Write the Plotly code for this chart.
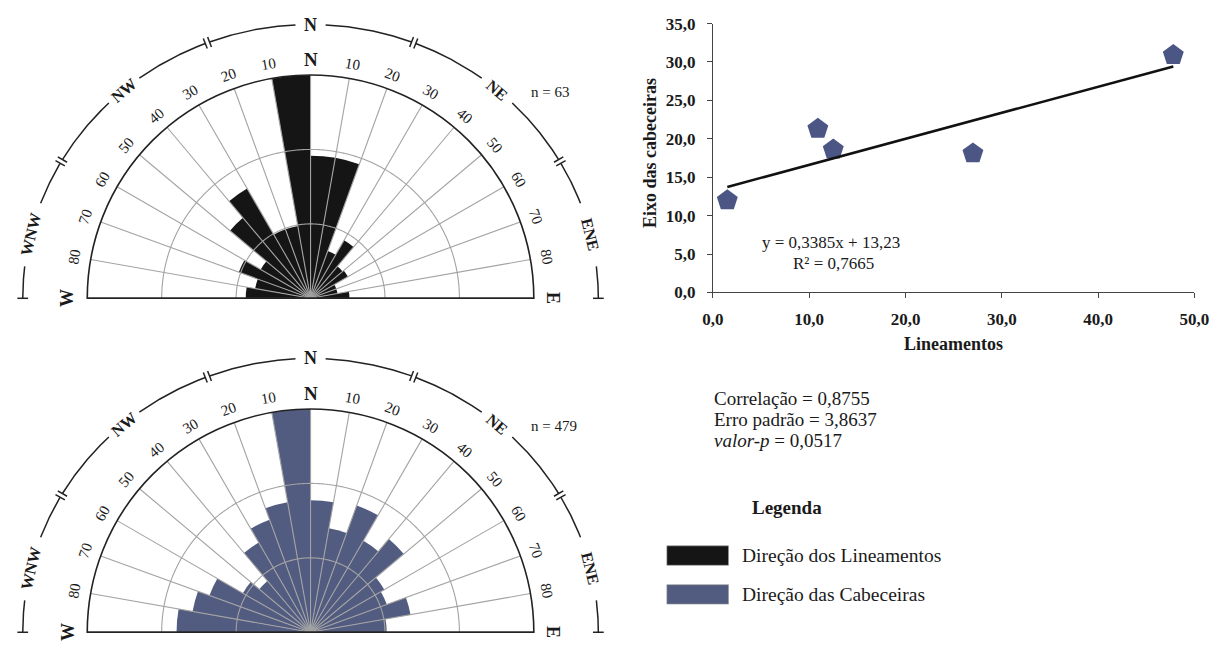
import numpy as np
import plotly.graph_objects as go

FIG_W, FIG_H = 1232, 651
SERIF = "Liberation Serif"

# ---- rose diagrams: 10-degree sectors, azimuth from north (negative = west) ----
sector_az = [-85, -75, -65, -55, -45, -35, -25, -15, -5,
             5, 15, 25, 35, 45, 55, 65, 75, 85]
lineamentos_pct = [4.5, 3.9, 5.3, 4.0, 7.3, 8.8, 5.1, 5.1, 15.5,
                   9.9, 9.9, 3.5, 4.65, 2.9, 3.0, 1.9, 1.9, 2.7]
cabeceiras_pct = [6.6, 5.9, 5.3, 3.85, 3.3, 5.1, 5.9, 6.5, 11.0,
                  6.5, 5.2, 6.65, 5.2, 6.0, 4.2, 4.0, 5.0, 3.75]
lineamentos_max = 15.5
cabeceiras_max = 11.0
lineamentos_n = 63
cabeceiras_n = 479

# ---- scatter: lineamentos vs eixo das cabeceiras ----
lineamentos = [1.5, 10.9, 12.5, 27.0, 47.8]
cabeceiras = [12.0, 21.3, 18.6, 18.1, 30.9]
slope, intercept, r2 = 0.3385, 13.23, 0.7665
correlacao, erro_padrao, valor_p = 0.8755, 3.8637, 0.0517
x_ticks = [0, 10, 20, 30, 40, 50]
y_ticks = [0, 5, 10, 15, 20, 25, 30, 35]

BLACK_BAR = "#151515"
BLUE_BAR = "#525b80"
MARKER_BLUE = "#4b5684"
GRID = "#a3a3a3"


def comma(v, nd):
    return f"{v:.{nd}f}".replace(".", ",")


# layout geometry (pixels)
R = 230
CX = 306
ARC_A, ARC_B = 294, 282

fig = go.Figure()
annotations = []
shapes = []


def px_ann(x, y, text, size, bold=False, angle=0, xanchor="center", color="#1a1a1a"):
    annotations.append(dict(
        x=x, y=y, xref="x2", yref="y2", text=text, showarrow=False,
        textangle=angle, xanchor=xanchor, yanchor="middle",
        font=dict(family=SERIF, size=size, color=color,
                  weight="bold" if bold else "normal"),
    ))


roses = [
    dict(name="polar", cy=298, vals=lineamentos_pct, rmax=lineamentos_max,
         color=BLACK_BAR, n=lineamentos_n, nlabel=(551, 86), label="Direção dos Lineamentos"),
    dict(name="polar2", cy=642, vals=cabeceiras_pct, rmax=cabeceiras_max,
         color=BLUE_BAR, n=cabeceiras_n, nlabel=(555, 430), label="Direção das Cabeceiras"),
]

polar_layouts = {}
for rose in roses:
    cy = rose["cy"]
    rmax = rose["rmax"]
    sub = rose["name"]
    fig.add_trace(go.Barpolar(
        r=rose["vals"], theta=sector_az, width=[10] * len(sector_az),
        marker=dict(color=rose["color"], line=dict(width=0)),
        subplot=sub, showlegend=False, hoverinfo="skip",
    ))
    # grid drawn over the bars: radial spokes every 10 degrees and two rings
    spoke_r, spoke_t = [], []
    for a in range(-80, 81, 10):
        spoke_r += [0, rmax, None]
        spoke_t += [a, a, None]
    fig.add_trace(go.Scatterpolar(
        r=spoke_r, theta=spoke_t, mode="lines",
        line=dict(color=GRID, width=1.1), subplot=sub,
        showlegend=False, hoverinfo="skip",
    ))
    ring_t = list(np.linspace(-90, 90, 241))
    ring_r, ring_tt = [], []
    for frac in (1 / 3, 2 / 3):
        ring_r += [rmax * frac] * len(ring_t) + [None]
        ring_tt += ring_t + [None]
    fig.add_trace(go.Scatterpolar(
        r=ring_r, theta=ring_tt, mode="lines",
        line=dict(color=GRID, width=1.1), subplot=sub,
        showlegend=False, hoverinfo="skip",
    ))
    # baseline W-E
    fig.add_trace(go.Scatterpolar(
        r=[rmax, rmax], theta=[-90, 90], mode="lines",
        line=dict(color="#333333", width=1.6), subplot=sub,
        showlegend=False, hoverinfo="skip",
    ))

    polar_layouts[sub] = dict(
        domain=dict(x=[(CX - R) / FIG_W, (CX + R) / FIG_W],
                    y=[1 - cy / FIG_H, 1 - (cy - R) / FIG_H]),
        sector=[0, 180], bgcolor="white", hole=0,
        angularaxis=dict(rotation=90, direction="clockwise", showgrid=False,
                         showticklabels=False, ticks="", showline=True,
                         linecolor="#222222", linewidth=1.6),
        radialaxis=dict(range=[0, rmax], showgrid=False, showticklabels=False,
                        ticks="", showline=False),
    )

    # degree labels around the rim
    for a in range(10, 90, 10):
        for s in (-1, 1):
            t = np.radians(s * a)
            rr = R + 15
            px_ann(CX + rr * np.sin(t), cy - rr * np.cos(t), str(a), 15, angle=s * a)
    px_ann(CX, cy - R - 16, "N", 19, bold=True)
    px_ann(CX - R - 18, cy, "W", 18, bold=True, angle=-90)
    px_ann(CX + R + 17, cy, "E", 18, bold=True, angle=90)
    px_ann(rose["nlabel"][0], rose["nlabel"][1], f"n = {rose['n']}", 15)

    # outer compass arc, broken into named segments with end caps
    def arc_pt(tdeg):
        t = np.radians(tdeg)
        return CX + ARC_A * np.sin(t), cy - ARC_B * np.cos(t)

    bounds = [-90, -60, -21, 21, 60, 90]
    seg_labels = [("WNW", -76.5, 6.8), ("NW", -40.5, 4.0), ("N", 0, 3.0),
                  ("NE", 40.5, 4.0), ("ENE", 76.5, 6.8)]
    lx, ly = [], []
    cap = 5.5
    delta = 0.45
    for i, (lab, tl, half_gap) in enumerate(seg_labels):
        t0 = bounds[i] + (delta if i > 0 else 0)
        t1 = bounds[i + 1] - (delta if i < len(seg_labels) - 1 else 0)
        for a0, a1 in ((t0, tl - half_gap), (tl + half_gap, t1)):
            ts = np.linspace(a0, a1, 60)
            pts = [arc_pt(t) for t in ts]
            lx += [p[0] for p in pts] + [None]
            ly += [p[1] for p in pts] + [None]
        for tb in (t0, t1):
            px, py = arc_pt(tb)
            nx, ny = np.sin(np.radians(tb)), -np.cos(np.radians(tb))
            lx += [px - cap * nx, px + cap * nx, None]
            ly += [py - cap * ny, py + cap * ny, None]
        px, py = arc_pt(tl)
        px_ann(px, py, lab, 18 if lab == "N" else 16, bold=True, angle=tl)
    fig.add_trace(go.Scatter(
        x=lx, y=ly, mode="lines", line=dict(color="#222222", width=1.5),
        xaxis="x2", yaxis="y2", showlegend=False, hoverinfo="skip",
    ))

# ---- scatter plot with linear trend ----
fig.add_trace(go.Scatter(
    x=lineamentos, y=cabeceiras, mode="markers",
    marker=dict(symbol="pentagon", size=22, color=MARKER_BLUE,
                line=dict(width=0)),
    xaxis="x", yaxis="y", showlegend=False,
))
trend_x = [min(lineamentos), max(lineamentos)]
trend_y = [slope * v + intercept for v in trend_x]
fig.add_trace(go.Scatter(
    x=trend_x, y=trend_y, mode="lines",
    line=dict(color="#111111", width=2.6),
    xaxis="x", yaxis="y", showlegend=False, hoverinfo="skip",
))

px_ann(838, 241, f"y = {comma(slope, 4)}x + {comma(intercept, 2)}", 17)
px_ann(840, 262, f"R² = {comma(r2, 4)}", 17)
px_ann(652, 148, "Eixo das cabeceiras", 18, bold=True, angle=-90)
px_ann(963, 345, "Lineamentos", 18, bold=True)

px_ann(716, 401, f"Correlação = {comma(correlacao, 4)}", 19, xanchor="left")
px_ann(716, 423, f"Erro padrão = {comma(erro_padrao, 4)}", 19, xanchor="left")
px_ann(716, 444, f"<i>valor-p</i> = {comma(valor_p, 4)}", 19, xanchor="left")

px_ann(793, 513, "Legenda", 19, bold=True)
legend_rows = [(BLACK_BAR, roses[0]["label"], 563), (BLUE_BAR, roses[1]["label"], 603)]
for color, text, yc in legend_rows:
    shapes.append(dict(type="rect", xref="x2", yref="y2", x0=670, x1=733,
                       y0=yc - 10, y1=yc + 10, fillcolor=color,
                       line=dict(color="#9a9a9a", width=0.6)))
    px_ann(745, yc, text, 19.5, xanchor="left")

tick_font = dict(family=SERIF, size=17, weight="bold", color="#1a1a1a")
fig.update_layout(
    width=FIG_W, height=FIG_H,
    margin=dict(l=0, r=0, t=0, b=0),
    paper_bgcolor="white", plot_bgcolor="rgba(0,0,0,0)",
    showlegend=False,
    font=dict(family=SERIF, color="#1a1a1a"),
    xaxis=dict(domain=[717 / FIG_W, 1209 / FIG_W], range=[0, 50],
               tickvals=x_ticks, ticktext=[comma(v, 1) for v in x_ticks],
               ticks="outside", ticklen=5, tickcolor="#444444",
               showline=True, linecolor="#444444", linewidth=1,
               showgrid=False, zeroline=False, ticklabelstandoff=6,
               tickfont=tick_font, anchor="y"),
    yaxis=dict(domain=[1 - 292 / FIG_H, 1 - 15 / FIG_H], range=[0, 35],
               tickvals=y_ticks, ticktext=[comma(v, 1) for v in y_ticks],
               ticks="outside", ticklen=5, tickcolor="#444444",
               showline=True, linecolor="#444444", linewidth=1,
               showgrid=False, zeroline=False, ticklabelstandoff=8,
               tickfont=tick_font, anchor="x"),
    xaxis2=dict(domain=[0, 1], range=[0, FIG_W], visible=False, fixedrange=True,
                anchor="y2"),
    yaxis2=dict(domain=[0, 1], range=[FIG_H, 0], visible=False, fixedrange=True,
                anchor="x2"),
    polar=polar_layouts["polar"],
    polar2=polar_layouts["polar2"],
    annotations=annotations,
    shapes=shapes,
)

fig.write_html("out.html")
